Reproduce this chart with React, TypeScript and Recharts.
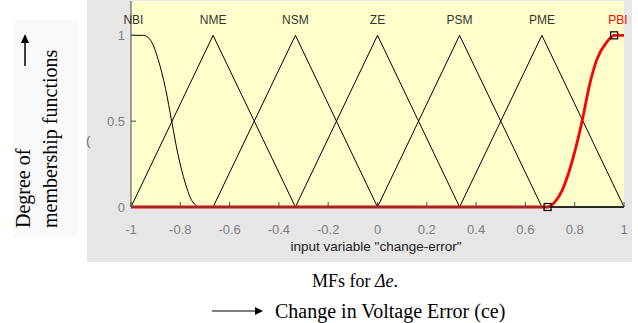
import { ComposedChart, Line, Scatter, XAxis, YAxis, CartesianGrid } from "recharts";

const xTicks = [-1, -0.8, -0.6, -0.4, -0.2, 0, 0.2, 0.4, 0.6, 0.8, 1];
const yTicks = [0, 0.5, 1];

const mfNames = ["NBI", "NME", "NSM", "ZE", "PSM", "PME", "PBI"];
const mfLabelX = [-0.99, -0.667, -0.333, 0, 0.333, 0.667, 0.975];
const mfLabelY = 1.09;

// NBI: z-shaped
const nbiX = [-1, -0.95, -0.92, -0.89, -0.86, -0.835, -0.81, -0.78, -0.75, -0.72, 1];
const nbiY = [1, 1, 0.97, 0.86, 0.69, 0.5, 0.31, 0.14, 0.03, 0, 0];

// triangles
const nmeX = [-1, -0.667, -0.333, 1];
const nmeY = [0, 1, 0, 0];
const nsmX = [-1, -0.667, -0.333, 0, 1];
const nsmY = [0, 0, 1, 0, 0];
const zeX = [-1, -0.333, 0, 0.333, 1];
const zeY = [0, 0, 1, 0, 0];
const psmX = [-1, 0, 0.333, 0.667, 1];
const psmY = [0, 0, 1, 0, 0];
const pmeX = [-1, 0.333, 0.667, 1];
const pmeY = [0, 0, 1, 0];

// PBI: s-shaped (selected, red)
const pbiX = [-1, 0.69, 0.72, 0.75, 0.78, 0.83, 0.86, 0.89, 0.93, 0.96, 1];
const pbiY = [0, 0, 0.03, 0.1, 0.22, 0.5, 0.71, 0.86, 0.96, 1, 1];

const markerX = [0.69, 0.96];
const markerY = [0, 1];

const pts = (xs: number[], ys: number[]) => xs.map((x, i) => ({ x, y: ys[i] }));

const labelData = mfNames.map((name, i) => ({ x: mfLabelX[i], y: mfLabelY, name }));

const sans = "'Liberation Sans', Arial, sans-serif";
const serif = "'Liberation Serif', 'Times New Roman', serif";
const axisColor = "#4a4a4a";
const tickStyle = { fill: "#7f7f7f", fontSize: 13, fontFamily: sans };

function MfLabel(props: any) {
  const { cx, cy, payload } = props;
  return (
    <text
      x={cx}
      y={cy}
      textAnchor="middle"
      dominantBaseline="central"
      fontSize={12}
      fontFamily={sans}
      fill={payload.name === "PBI" ? "#ff0000" : "#333"}
    >
      {payload.name}
    </text>
  );
}

function Marker(props: any) {
  const { cx, cy } = props;
  return <rect x={cx - 3.5} y={cy - 3.5} width={7} height={7} fill="none" stroke="#000" strokeWidth={1.2} />;
}

const blackMfs = [
  pts(nbiX, nbiY),
  pts(nmeX, nmeY),
  pts(nsmX, nsmY),
  pts(zeX, zeY),
  pts(psmX, psmY),
  pts(pmeX, pmeY)
];

export default function App() {
  return (
    <div style={{ position: "absolute", left: 0, top: 0, width: 638, height: 323, background: "#fff" }}>
      <div style={{ position: "absolute", left: 87, top: 0, width: 545, height: 262, background: "#e6e6e6" }} />
      <div style={{ position: "absolute", left: 0, top: 0 }}>
        <ComposedChart width={638} height={323} margin={{ top: 0, right: 13, bottom: 61, left: 87 }}>
          <CartesianGrid fill="#ffffcc" stroke="none" horizontal={false} vertical={false} />
          <XAxis
            dataKey="x"
            type="number"
            domain={[-1, 1]}
            ticks={xTicks}
            height={55}
            tickSize={-5}
            tickMargin={23}
            tick={tickStyle}
            axisLine={{ stroke: axisColor }}
            tickLine={{ stroke: axisColor }}
          />
          <XAxis
            xAxisId="top"
            orientation="top"
            type="number"
            domain={[-1, 1]}
            ticks={xTicks}
            height={1}
            tickSize={-5}
            tick={{ fill: "none" }}
            axisLine={false}
            tickLine={{ stroke: axisColor }}
          />
          <YAxis
            dataKey="y"
            type="number"
            domain={[0, 1.2]}
            ticks={yTicks}
            width={44}
            tickSize={-5}
            tickMargin={11}
            tick={tickStyle}
            axisLine={{ stroke: axisColor }}
            tickLine={{ stroke: axisColor }}
          />
          <YAxis
            yAxisId="right"
            orientation="right"
            type="number"
            domain={[0, 1.2]}
            ticks={yTicks}
            width={1}
            tickSize={-5}
            tick={{ fill: "none" }}
            axisLine={false}
            tickLine={{ stroke: axisColor }}
          />
          {blackMfs.map((d, i) => (
            <Line
              key={mfNames[i]}
              data={d}
              dataKey="y"
              type={i === 0 ? "monotone" : "linear"}
              stroke="#000"
              strokeWidth={1}
              dot={false}
              isAnimationActive={false}
            />
          ))}
          <Line
            data={pts(pbiX, pbiY)}
            dataKey="y"
            type="monotone"
            stroke="#ff0000"
            strokeWidth={2.8}
            dot={false}
            isAnimationActive={false}
          />
          <Scatter data={pts(markerX, markerY)} dataKey="y" shape={Marker} isAnimationActive={false} />
          <Scatter data={labelData} dataKey="y" shape={MfLabel} isAnimationActive={false} />
        </ComposedChart>
      </div>
      <svg width={638} height={323} style={{ position: "absolute", left: 0, top: 0, pointerEvents: "none" }}>
        <rect x={13} y={20} width={65} height={218} fill="#f9f9f9" />
        <line x1={25} y1={66} x2={25} y2={42} stroke="#000" strokeWidth={1.5} />
        <polygon points="21,43 29,43 25,34" fill="#000" />
        <text transform="translate(30,228) rotate(-90)" fontSize={20} fontFamily={serif} fill="#000">
          Degree of
        </text>
        <text transform="translate(57,228) rotate(-90)" fontSize={20} fontFamily={serif} fill="#000">
          membership functions
        </text>
        <text x={86} y={145} fontSize={13} fontFamily={sans} fill="#666">
          (
        </text>
        <text x={376} y={251} textAnchor="middle" fontSize={13.5} fontFamily={sans} fill="#222">
          input variable "change-error"
        </text>
        <text x={312} y={287} fontSize={18} fontFamily={serif} fill="#000">
          MFs for <tspan fontStyle="italic">Δe</tspan>.
        </text>
        <line x1={212} y1={311} x2={256} y2={311} stroke="#000" strokeWidth={1.2} />
        <polygon points="255,307 263,311 255,315" fill="#000" />
        <text x={275} y={318} fontSize={20} fontFamily={serif} fill="#000">
          Change in Voltage Error (ce)
        </text>
      </svg>
    </div>
  );
}
